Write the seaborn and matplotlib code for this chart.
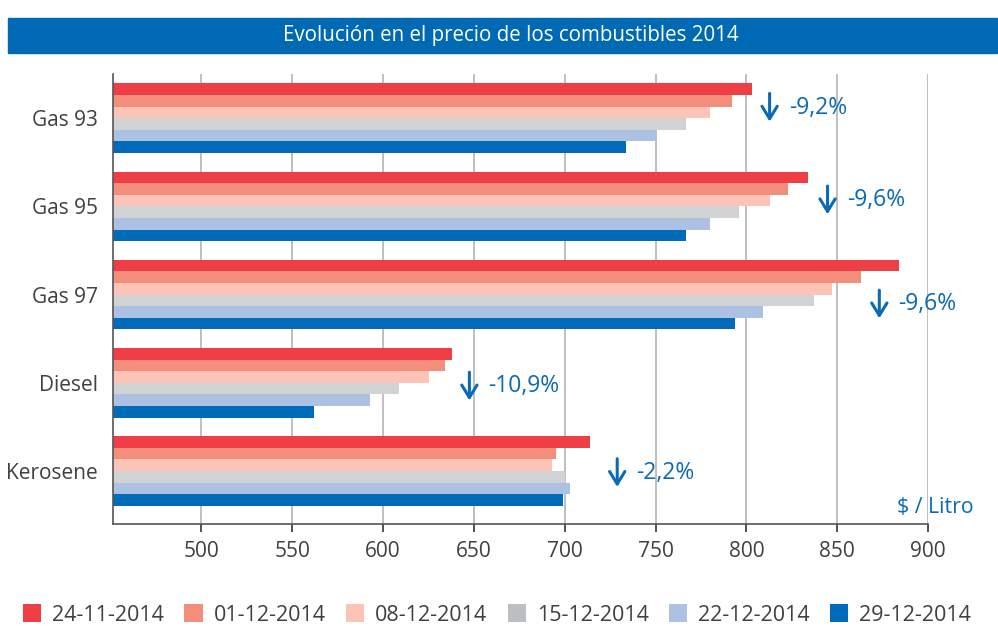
import numpy as np
import pandas as pd
import matplotlib.pyplot as plt
import seaborn as sns
from matplotlib.patches import Patch, Rectangle

# datos ($ / litro)
combustibles = ["Gas 93", "Gas 95", "Gas 97", "Diesel", "Kerosene"]
fechas = ["24-11-2014", "01-12-2014", "08-12-2014", "15-12-2014", "22-12-2014", "29-12-2014"]
p_24_11 = [803, 834, 884, 638, 714]
p_01_12 = [792, 823, 863, 634, 695]
p_08_12 = [780, 813, 847, 625, 693]
p_15_12 = [767, 796, 837, 609, 700]
p_22_12 = [750, 780, 809, 593, 703]
p_29_12 = [734, 767, 794, 562, 699]
variacion = ["-9,2%", "-9,6%", "-9,6%", "-10,9%", "-2,2%"]

# donde van las flechas de variacion
flecha_x = [812.8, 844.7, 873.2, 647.5, 728.9]
flecha_dy = [-0.12, -0.07, 0.11, 0.04, 0.02]

colores = ["#EF3E45", "#F48E7C", "#FCC3B7", "#D1D2D4", "#ADC2E3", "#006BB8"]
colores_ley = ["#EF3E45", "#F48E7C", "#FCC3B7", "#BDBEC1", "#ADC2E3", "#006BB8"]
azul = "#0A6AB6"
gris = "#404040"

series = [p_24_11, p_01_12, p_08_12, p_15_12, p_22_12, p_29_12]
df = pd.DataFrame({
    "combustible": combustibles * len(fechas),
    "fecha": np.repeat(fechas, len(combustibles)),
    "precio": np.concatenate(series),
})

sns.set_style("white")
plt.rcParams["font.family"] = ["Open Sans", "DejaVu Sans"]

fig = plt.figure(figsize=(9.98, 6.27), dpi=100)
ax = fig.add_axes([113 / 998, 1 - 524 / 627, (928 - 113) / 998, (524 - 74) / 627])

sns.barplot(data=df, y="combustible", x="precio", hue="fecha", order=combustibles,
            hue_order=fechas, palette=colores, orient="h", width=0.79, gap=0,
            saturation=1, legend=False, ax=ax, zorder=2, linewidth=0, edgecolor="none")

ax.set_xlim(451.3, 900)
ax.set_ylim(4.6, -0.5)
ax.set_xticks([500, 550, 600, 650, 700, 750, 800, 850, 900])
ax.grid(axis="x", color="#B4B4B4", lw=1.2, zorder=0)
ax.set_axisbelow(True)
ax.set_xlabel("")
ax.set_ylabel("")
for s in ["top", "right"]:
    ax.spines[s].set_visible(False)
for s in ["left", "bottom"]:
    ax.spines[s].set_color("#555555")
    ax.spines[s].set_linewidth(1.2)
ax.tick_params(axis="x", direction="out", length=6, width=1.2, color="#333333",
               labelsize=15, labelcolor=gris, pad=6, bottom=True)
ax.tick_params(axis="y", length=0, labelsize=15, labelcolor=gris, pad=11)

for i, (fx, dy, txt) in enumerate(zip(flecha_x, flecha_dy, variacion)):
    yc = i + dy
    ax.annotate("", xy=(fx, yc + 0.16), xytext=(fx, yc - 0.16),
                arrowprops=dict(arrowstyle="->,head_length=0.9,head_width=0.55",
                                color=azul, lw=2.2, shrinkA=0, shrinkB=0))
    ax.text(fx + 10.5, yc, txt, color=azul, fontsize=16.5, ha="left", va="center")

ax.text(883, 4.41, "$ / Litro", color=azul, fontsize=15.3, ha="left", va="center",
        clip_on=False)

# banda del titulo
fig.patches.append(Rectangle((8 / 998, 1 - 53 / 627), 989 / 998, 35 / 627,
                             transform=fig.transFigure, color="#0069B4", zorder=0))
fig.text(511 / 998, 1 - 35 / 627, "Evolución en el precio de los combustibles 2014",
         color="white", fontsize=14.8, ha="center", va="center")

handles = [Patch(facecolor=c, edgecolor="none") for c in colores_ley]
fig.legend(handles, fechas, loc="center", bbox_to_anchor=(0.498, 1 - 615 / 627),
           ncol=6, frameon=False, fontsize=15.5, handlelength=0.85, handleheight=0.85,
           handletextpad=0.5, columnspacing=0.95, labelcolor=gris)

fig.savefig("out.png", dpi=100)
